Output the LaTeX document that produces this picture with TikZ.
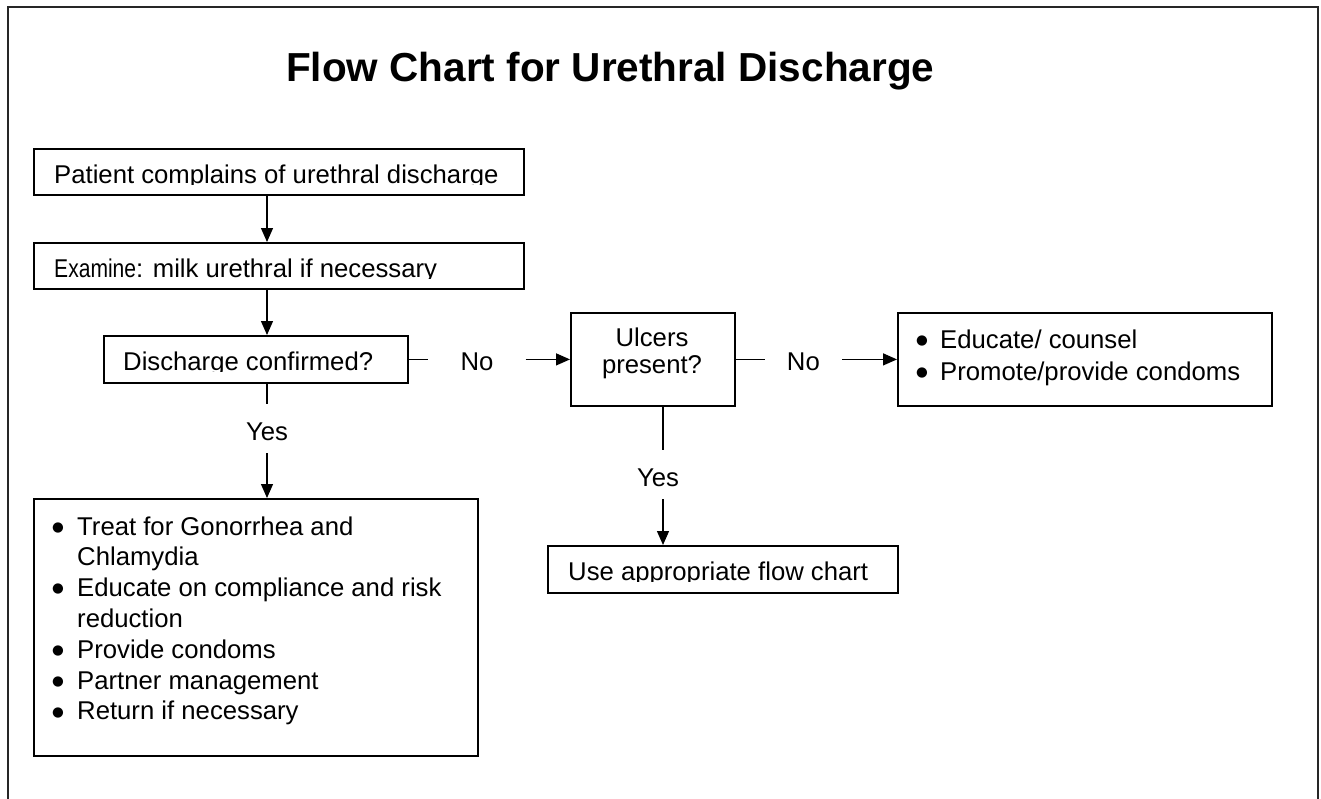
\documentclass[tikz,border=0pt]{standalone}
\usepackage{fontspec}
\setmainfont{Liberation Sans}
\newfontfamily\dvs{DejaVu Sans}
\usepackage{graphicx}
\usetikzlibrary{arrows.meta}
\newcommand\bulglyph{\raisebox{3.8pt}{\dvs\fontsize{13.5pt}{13.5pt}\selectfont ●}}
\newcommand\mybulA{\makebox[25pt][l]{\bulglyph}}
\newcommand\mybulB{\makebox[24pt][l]{\bulglyph}}
\begin{document}
\begin{tikzpicture}[x=1pt,y=-1pt,
  box/.style={draw, line width=1.8pt, inner sep=0pt, anchor=north west},
  conn/.style={line width=1.3pt},
  arr/.style={conn, -{Triangle[length=14pt,width=12pt]}},
  txt/.style={inner sep=0pt, anchor=base west, font=\fontsize{25.7pt}{30.8pt}\selectfont},
  lbl/.style={inner ysep=10pt, inner xsep=0pt, text height=26pt, text depth=3pt, font=\fontsize{25.7pt}{30.8pt}\selectfont},
  nolbl/.style={inner ysep=0pt, text height=23pt, text depth=0pt, font=\fontsize{25.7pt}{30.8pt}\selectfont},
]
\useasboundingbox (0,0) rectangle (1321,798);
% outer frame
\draw[line width=2.5pt, black!85] (8,812) -- (8,7) -- (1318,7) -- (1318,812);

% title
\node[inner sep=0pt, anchor=base west, font=\bfseries\fontsize{40.5pt}{48pt}\selectfont] (title) at (286,81) {Flow Chart for Urethral Discharge};

% boxes
\node[box, minimum width=490pt, minimum height=46pt] (b1) at (33,148) {};
\node[box, minimum width=490pt, minimum height=46pt] (b2) at (33,242) {};
\node[box, minimum width=304pt, minimum height=47pt] (b3) at (103,335) {};
\node[box, minimum width=444pt, minimum height=257pt] (b4) at (33,498) {};
\node[box, minimum width=164pt, minimum height=93pt] (ulc) at (570,312) {};
\node[box, minimum width=374pt, minimum height=93pt] (edu) at (897,312) {};
\node[box, minimum width=350pt, minimum height=47pt] (b5) at (547,545) {};

% texts (clipped at the baseline like the original)
\begin{scope}
\clip (33,148) rectangle (523,184.5);
\node[txt] (t1) at (54,183.5) {Patient complains of urethral discharge};
\end{scope}
\begin{scope}
\clip (33,242) rectangle (523,278);
\node[txt] (t2) at (54,277) {\scalebox{0.82}[1]{Examine}: milk urethral if necessary};
\end{scope}
\begin{scope}
\clip (103,335) rectangle (407,371.5);
\node[txt] (t3) at (123,370) {Discharge confirmed?};
\end{scope}
\begin{scope}
\clip (547,545) rectangle (897,581.5);
\node[txt] (t5) at (568,580) {Use appropriate flow chart};
\end{scope}

\node[inner sep=0pt, anchor=north, font=\fontsize{25.7pt}{27pt}\selectfont] (tu) at (652,327.1)
  {\begin{tabular}{@{}c@{}}Ulcers\\present?\end{tabular}};
\node[inner sep=0pt, anchor=north west, font=\fontsize{25.7pt}{31.7pt}\selectfont] (te) at (916,326.1)
  {\begin{tabular}{@{}l@{}l@{}}\mybulB&Educate/ counsel\\\mybulB&Promote/provide condoms\end{tabular}};
\node[inner sep=0pt, anchor=north west, font=\fontsize{25.7pt}{30.8pt}\selectfont] (t4) at (52,513.4)
  {\begin{tabular}{@{}l@{}l@{}}
   \mybulA&Treat for Gonorrhea and\\
   &Chlamydia\\
   \mybulA&Educate on compliance and risk\\
   &reduction\\
   \mybulA&Provide condoms\\
   \mybulA&Partner management\\
   \mybulA&Return if necessary
   \end{tabular}};

% labels
\node[lbl] (yes1) at (267,428.5) {Yes};
\node[lbl] (yes2) at (658,474.5) {Yes};
\node[nolbl, inner xsep=32pt] (no1) at (477,358.5) {No};
\node[nolbl, inner xsep=22pt] (no2) at (803.4,358.5) {No\hspace{20pt}};

\coordinate (ax) at (267,0);
\coordinate (ay) at (663,0);

% connectors
\draw[arr] (b1.south -| ax) -- (b2.north -| ax);
\draw[arr] (b2.south -| ax) -- (b3.north -| ax);
\draw[conn] (b3.south -| ax) -- (yes1.north);
\draw[arr] (yes1.south) -- (b4.north -| ax);
\draw[conn] (b3.east) -- (b3.east -| no1.west);
\draw[arr] (no1.east |- b3.east) -- (ulc.west);
\draw[conn] (ulc.east) -- (ulc.east -| no2.west);
\draw[arr] (no2.east |- ulc.east) -- (edu.west);
\draw[conn] (ulc.south -| ay) -- (yes2.north -| ay);
\draw[arr] (yes2.south -| ay) -- (b5.north -| ay);
\end{tikzpicture}
\end{document}
